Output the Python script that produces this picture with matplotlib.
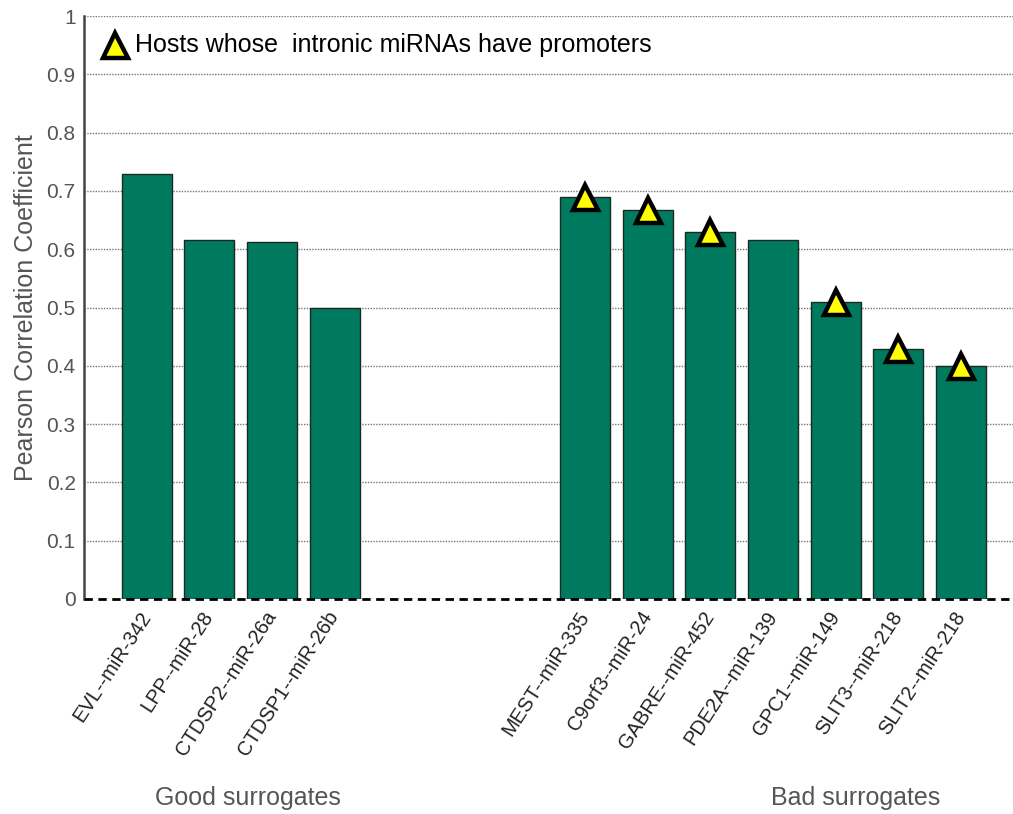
import matplotlib.pyplot as plt

plt.rcParams['font.family'] = ['Liberation Sans', 'DejaVu Sans']

good_pairs = ['EVL--miR-342', 'LPP--miR-28', 'CTDSP2--miR-26a', 'CTDSP1--miR-26b']
good_r = [0.729, 0.615, 0.612, 0.500]
bad_pairs = ['MEST--miR-335', 'C9orf3--miR-24', 'GABRE--miR-452', 'PDE2A--miR-139',
             'GPC1--miR-149', 'SLIT3--miR-218', 'SLIT2--miR-218']
bad_r = [0.690, 0.667, 0.630, 0.616, 0.509, 0.429, 0.400]
# hosts whose intronic miRNAs have their own promoters
has_promoter = [True, True, True, False, True, True, True]

good_x = [1, 2, 3, 4]
bad_x = [8, 9, 10, 11, 12, 13, 14]

green = '#007a5e'

fig = plt.figure(figsize=(10.13, 8.14), dpi=100)
ax = fig.add_axes([84 / 1013, 1 - 599 / 814, 1 - 84 / 1013, 583 / 814])

ax.bar(good_x + bad_x, good_r + bad_r, width=0.8, color=green,
       edgecolor='#1a2a22', linewidth=1, zorder=3)

tri_x = [x for x, p in zip(bad_x, has_promoter) if p]
tri_y = [r for r, p in zip(bad_r, has_promoter) if p]
ax.plot(tri_x, tri_y, linestyle='none', marker='^', markersize=18,
        markerfacecolor='#ffff00', markeredgecolor='black',
        markeredgewidth=3.2, zorder=4, clip_on=False)

ax.set_xlim(0, 14.83)
ax.set_ylim(0, 1)
ax.set_yticks([i / 10 for i in range(11)])
ax.set_yticklabels(['0'] + ['%.1f' % (i / 10) for i in range(1, 10)] + ['1'])
ax.yaxis.grid(True, linestyle=(0, (1, 1)), color='#777777', linewidth=1, zorder=0)
ax.axhline(0, color='black', linestyle=(0, (3, 2)), linewidth=2, zorder=5, clip_on=False)

for s in ['top', 'right', 'bottom']:
    ax.spines[s].set_visible(False)
ax.spines['left'].set_color('#444444')
ax.spines['left'].set_linewidth(1.8)

ax.tick_params(axis='y', length=0, pad=6, labelsize=15, labelcolor='#555555')
ax.tick_params(axis='x', length=0, pad=10)
ax.set_xticks(good_x + bad_x)
ax.set_xticklabels(good_pairs + bad_pairs, rotation=57, ha='right', va='center',
                   rotation_mode='anchor', fontsize=14.5, color='#222222')

ax.set_ylabel('Pearson Correlation Coefficient', fontsize=18, color='#555555', labelpad=6)

# legend entry drawn by hand
ax.plot([0.5], [0.951], linestyle='none', marker='^', markersize=18,
        markerfacecolor='#ffff00', markeredgecolor='black', markeredgewidth=3.2, zorder=6)
ax.text(0.82, 0.951, 'Hosts whose  intronic miRNAs have promoters', fontsize=18,
        color='black', va='center', ha='left', zorder=6)

fig.text(248 / 1013, 1 - 798 / 814, 'Good surrogates', fontsize=18, color='#555555',
         ha='center', va='center')
fig.text(856 / 1013, 1 - 798 / 814, 'Bad surrogates', fontsize=18, color='#555555',
         ha='center', va='center')

fig.savefig('out.png', dpi=100)
